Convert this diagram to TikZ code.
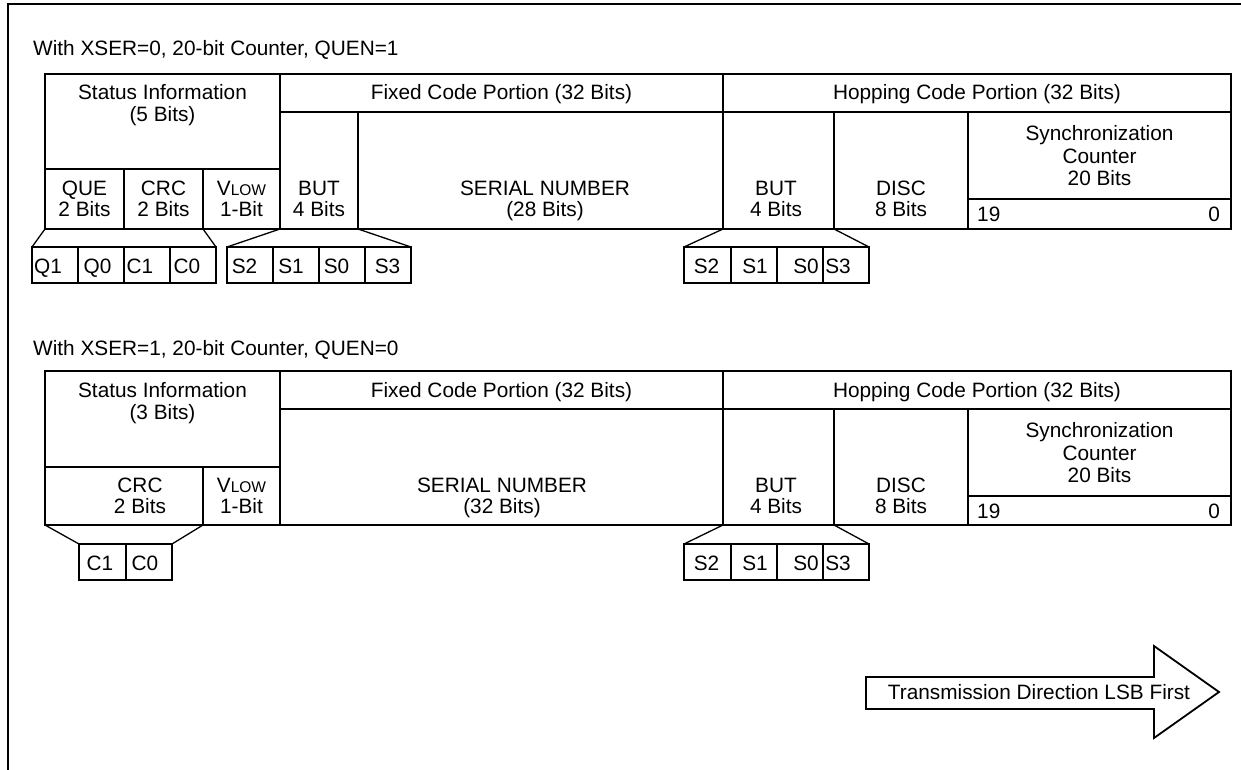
\documentclass[tikz,border=0pt]{standalone}
\usepackage{fontspec}
\setmainfont{Liberation Sans}
\newcommand\mainsz{\fontsize{20.8}{22}\selectfont}
\newcommand\vlow{V{\fontsize{15.5}{16}\selectfont LOW}}
\newcommand\cellbox[5]{\node[cell, minimum width={(#4-#2)*1pt}, minimum height={(#5-#3)*1pt}] (#1) at ({(#2+#4)/2},{(#3+#5)/2}) {};}
\tikzset{
  cell/.style={draw, line width=2pt, inner sep=0pt, outer sep=0pt},
  fan/.style={line width=1.3pt},
  lbl/.style={inner sep=0pt, anchor=base, font=\mainsz},
  frame/.style={line width=2.5pt},
}
\begin{document}
\begin{tikzpicture}[x=1pt,y=-1pt]
\useasboundingbox (0,0) rectangle (1241,770);
% frame
\coordinate (fa) at (8,770);
\coordinate (fb) at (8,4);
\coordinate (fc) at (1241,4);
\draw[frame] (fa) -- (fb) -- (fc);

% ===== Table 1 =====
\node[lbl, anchor=base west] (title1) at (33,56) {With XSER=0, 20-bit Counter, QUEN=1};
\cellbox{st1}{45}{74}{280}{169}
\cellbox{que1}{45}{169}{124}{229}
\cellbox{crc1}{124}{169}{203}{229}
\cellbox{vlow1}{203}{169}{280}{229}
\cellbox{fx1}{280}{74}{723}{112}
\cellbox{but1}{280}{112}{358}{229}
\cellbox{sn1}{358}{112}{723}{229}
\cellbox{hp1}{723}{74}{1231}{112}
\cellbox{hbut1}{723}{112}{834}{229}
\cellbox{disc1}{834}{112}{968}{229}
\cellbox{sync1}{968}{112}{1231}{199}
\cellbox{cnt1}{968}{199}{1231}{229}
% bit rows
\cellbox{qa}{32}{247}{78}{283}
\cellbox{qb}{78}{247}{124}{283}
\cellbox{qc}{124}{247}{170}{283}
\cellbox{qd}{170}{247}{216}{283}
\cellbox{sa1}{227}{247}{273}{283}
\cellbox{sa2}{273}{247}{319}{283}
\cellbox{sa3}{319}{247}{365}{283}
\cellbox{sa4}{365}{247}{411}{283}
\cellbox{sb1}{684}{247}{731}{283}
\cellbox{sb2}{731}{247}{777}{283}
\cellbox{sb3}{777}{247}{823}{283}
\cellbox{sb4}{823}{247}{869}{283}
% fans
\draw[fan] (que1.south west) -- (qa.north west);
\draw[fan] (crc1.south east) -- (qd.north east);
\draw[fan] (but1.south west) -- (sa1.north west);
\draw[fan] (but1.south east) -- (sa4.north east);
\draw[fan] (hbut1.south west) -- (sb1.north west);
\draw[fan] (hbut1.south east) -- (sb4.north east);
% labels
\node[lbl] (st1a) at (162.5,100) {Status Information};
\node[lbl] (st1b) at (162.5,122) {(5 Bits)};
\node[lbl] (fx1t) at (501.5,100) {Fixed Code Portion (32 Bits)};
\node[lbl] (hp1t) at (977,100) {Hopping Code Portion (32 Bits)};
\node[lbl] (que1a) at (84.5,195.5) {QUE};
\node[lbl] (que1b) at (84.5,216.5) {2 Bits};
\node[lbl] (crc1a) at (163.5,195.5) {CRC};
\node[lbl] (crc1b) at (163.5,216.5) {2 Bits};
\node[lbl] (vlow1a) at (241.5,195.5) {\vlow};
\node[lbl] (vlow1b) at (241.5,216.5) {1-Bit};
\node[lbl] (but1a) at (319,195.5) {BUT};
\node[lbl] (but1b) at (319,216.5) {4 Bits};
\node[lbl] (sn1a) at (545,195.5) {SERIAL NUMBER};
\node[lbl] (sn1b) at (545,216.5) {(28 Bits)};
\node[lbl] (hbut1a) at (776,195.5) {BUT};
\node[lbl] (hbut1b) at (776,216.5) {4 Bits};
\node[lbl] (disc1a) at (901,195.5) {DISC};
\node[lbl] (disc1b) at (901,216.5) {8 Bits};
\node[lbl] (sync1a) at (1099.5,140.5) {Synchronization};
\node[lbl] (sync1b) at (1099.5,163.5) {Counter};
\node[lbl] (sync1c) at (1099.5,185.5) {20 Bits};
\node[lbl, anchor=base west] (cnt1a) at (977,221) {19};
\node[lbl, anchor=base east] (cnt1b) at (1220,221) {0};
\node[lbl] (qal) at (48,273) {Q1};
\node[lbl] (qbl) at (97.5,273) {Q0};
\node[lbl] (qcl) at (140,273) {C1};
\node[lbl] (qdl) at (187,273) {C0};
\node[lbl] (sa1l) at (244.5,273) {S2};
\node[lbl] (sa2l) at (291,273) {S1};
\node[lbl] (sa3l) at (336.5,273) {S0};
\node[lbl] (sa4l) at (387.5,273) {S3};
\node[lbl] (sb1l) at (706.5,273) {S2};
\node[lbl] (sb2l) at (755,273) {S1};
\node[lbl] (sb3l) at (806,273) {S0};
\node[lbl] (sb4l) at (838,273) {S3};

% ===== Table 2 =====
\node[lbl, anchor=base west] (title2) at (33,355) {With XSER=1, 20-bit Counter, QUEN=0};
\cellbox{st2}{45}{371}{280}{467}
\cellbox{crc2}{45}{467}{203}{525}
\cellbox{vlow2}{203}{467}{280}{525}
\cellbox{fx2}{280}{371}{723}{409}
\cellbox{sn2}{280}{409}{723}{525}
\cellbox{hp2}{723}{371}{1231}{409}
\cellbox{hbut2}{723}{409}{834}{525}
\cellbox{disc2}{834}{409}{968}{525}
\cellbox{sync2}{968}{409}{1231}{496}
\cellbox{cnt2}{968}{496}{1231}{525}
\cellbox{ca}{79}{544}{126}{580}
\cellbox{cb}{126}{544}{172}{580}
\cellbox{sd1}{684}{544}{731}{580}
\cellbox{sd2}{731}{544}{777}{580}
\cellbox{sd3}{777}{544}{823}{580}
\cellbox{sd4}{823}{544}{869}{580}
\draw[fan] (crc2.south west) -- (ca.north west);
\draw[fan] (crc2.south east) -- (cb.north east);
\draw[fan] (hbut2.south west) -- (sd1.north west);
\draw[fan] (hbut2.south east) -- (sd4.north east);
\node[lbl] (st2a) at (162.5,397) {Status Information};
\node[lbl] (st2b) at (162.5,419) {(3 Bits)};
\node[lbl] (fx2t) at (501.5,397) {Fixed Code Portion (32 Bits)};
\node[lbl] (hp2t) at (977,397) {Hopping Code Portion (32 Bits)};
\node[lbl] (crc2a) at (140,492.5) {CRC};
\node[lbl] (crc2b) at (140,513.5) {2 Bits};
\node[lbl] (vlow2a) at (241.5,492.5) {\vlow};
\node[lbl] (vlow2b) at (241.5,513.5) {1-Bit};
\node[lbl] (sn2a) at (502,492.5) {SERIAL NUMBER};
\node[lbl] (sn2b) at (502,513.5) {(32 Bits)};
\node[lbl] (hbut2a) at (776,492.5) {BUT};
\node[lbl] (hbut2b) at (776,513.5) {4 Bits};
\node[lbl] (disc2a) at (901,492.5) {DISC};
\node[lbl] (disc2b) at (901,513.5) {8 Bits};
\node[lbl] (sync2a) at (1099.5,437.5) {Synchronization};
\node[lbl] (sync2b) at (1099.5,460.5) {Counter};
\node[lbl] (sync2c) at (1099.5,482.5) {20 Bits};
\node[lbl, anchor=base west] (cnt2a) at (977,518) {19};
\node[lbl, anchor=base east] (cnt2b) at (1220,518) {0};
\node[lbl] (cal) at (100,570) {C1};
\node[lbl] (cbl) at (145,570) {C0};
\node[lbl] (sd1l) at (706.5,570) {S2};
\node[lbl] (sd2l) at (755,570) {S1};
\node[lbl] (sd3l) at (806,570) {S0};
\node[lbl] (sd4l) at (838,570) {S3};

% ===== Arrow =====
\draw[line width=1.8pt, fill=white, line join=miter]
  (1154,677) -- (866,677) -- (866,709) -- (1154,709) -- (1154,738)
  -- (1219,692) -- (1154,646) -- cycle;
\node[lbl] (dir) at (1039,699.5) {Transmission Direction LSB First};
\end{tikzpicture}
\end{document}
